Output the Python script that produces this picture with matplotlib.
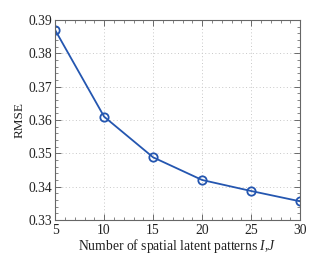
import matplotlib
matplotlib.use("Agg")
from matplotlib import pyplot
from matplotlib.ticker import MultipleLocator
import numpy as np

patterns = [5, 10, 15, 20, 25, 30]
rmse = [0.387, 0.361, 0.3488, 0.342, 0.3387, 0.3356]

pyplot.rcParams["font.family"] = ["Liberation Serif", "DejaVu Serif"]
pyplot.rcParams["mathtext.fontset"] = "custom"
pyplot.rcParams["mathtext.it"] = "Liberation Serif:italic"
pyplot.rcParams["mathtext.rm"] = "Liberation Serif"

fig = pyplot.figure(figsize=(3.32, 2.63), dpi=100)
ax = fig.add_axes([0.166, 0.1635, 0.738, 0.7605])
ax.plot(patterns, rmse, color="#2456b0", linewidth=1.3, marker="o",
        markersize=6, markerfacecolor="none", markeredgewidth=1.3)

ax.set_xlim(5, 30)
ax.set_ylim(0.33, 0.39)
ax.set_xticks([5, 10, 15, 20, 25, 30])
ax.set_yticks([0.33, 0.34, 0.35, 0.36, 0.37, 0.38, 0.39])
ax.set_yticklabels(["0.33", "0.34", "0.35", "0.36", "0.37", "0.38", "0.39"])
ax.xaxis.set_minor_locator(MultipleLocator(1))
ax.yaxis.set_minor_locator(MultipleLocator(0.002))
ax.tick_params(which="both", direction="in", top=True, right=True,
               colors="#555555", labelcolor="#222222", labelsize=9.8)
ax.tick_params(which="major", length=4, width=0.6)
ax.tick_params(which="minor", length=2, width=0.5)
ax.tick_params(axis="x", pad=3)
ax.tick_params(axis="y", pad=2)
for s in ax.spines.values():
    s.set_color("#666666")
    s.set_linewidth(0.8)
ax.grid(True, which="major", linestyle=(0, (1, 2.5)), color="#c8c8c8",
        linewidth=0.7)
ax.set_xlabel("Number of spatial latent patterns $I$,$J$", fontsize=9.8,
              labelpad=0, color="#222222")
ax.set_ylabel("RMSE", fontsize=9.5, labelpad=2, color="#222222")

pyplot.savefig("out.png", dpi=100)
